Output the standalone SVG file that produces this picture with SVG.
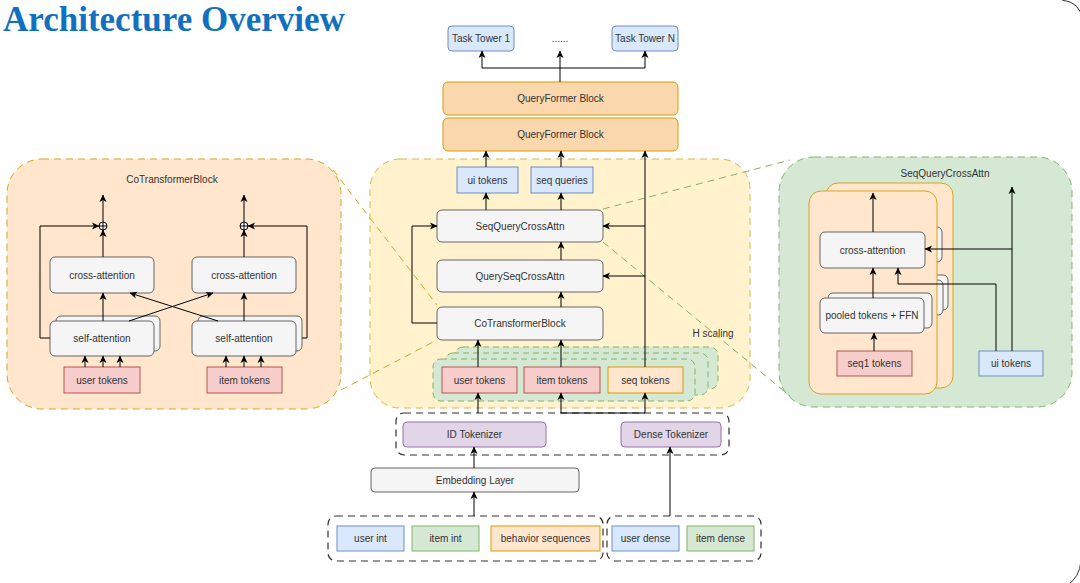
<svg xmlns="http://www.w3.org/2000/svg" width="1080" height="583" viewBox="0 0 1080 583">
<defs>
<marker id="arr" markerWidth="8" markerHeight="8" refX="7" refY="4" orient="auto" markerUnits="userSpaceOnUse">
<path d="M0,0.5 L7.5,4 L0,7.5 L2,4 z" fill="#000"/>
</marker>
<style>
text{font-family:"Liberation Sans",Arial,sans-serif;font-size:10px;fill:#333;text-anchor:middle;dominant-baseline:central}
.title{font-family:"Liberation Serif","Times New Roman",serif;font-size:35px;font-weight:bold;fill:#1270c0;text-anchor:start;dominant-baseline:auto}
.gray{fill:#f5f5f5;stroke:#666;stroke-width:1}
.red{fill:#f8cecc;stroke:#b85450;stroke-width:1}
.blue{fill:#dae8fc;stroke:#6c8ebf;stroke-width:1}
.green{fill:#d5e8d4;stroke:#82b366;stroke-width:1}
.orange{fill:#ffe6cc;stroke:#d79b00;stroke-width:1}
.qf{fill:#fad7ac;stroke:#d79b00;stroke-width:1}
.purple{fill:#e1d5e7;stroke:#9673a6;stroke-width:1}
.grp{fill:none;stroke:#333;stroke-width:1.2;stroke-dasharray:7 5}
.gstack{fill:#d5e8d4;stroke:#82b366;stroke-width:1;stroke-dasharray:6 4}
.ln{fill:none;stroke:#000;stroke-width:1}
.a{fill:none;stroke:#000;stroke-width:1;marker-end:url(#arr)}
.zoomO{fill:none;stroke:#d6a520;stroke-width:1;stroke-dasharray:7 5}
.zoomG{fill:none;stroke:#82b366;stroke-width:1;stroke-dasharray:7 5}
</style>
</defs>
<rect width="1080" height="583" fill="#fff"/>
<path d="M1062,0 Q1080,2 1083,20" fill="none" stroke="#333" stroke-width="1"/>
<path d="M1081,560 Q1080,578 1066,586" fill="none" stroke="#333" stroke-width="1"/>
<text class="title" x="3" y="31">Architecture Overview</text>

<g id="panel-cotransformer">
<rect x="7" y="159" width="334" height="250" rx="35" fill="#ffe6cc" stroke="#d6a520" stroke-width="1" stroke-dasharray="7 5"/>
<text x="172" y="179">CoTransformerBlock</text>
</g>
<g id="panel-main">
<rect x="370" y="159" width="380" height="249" rx="30" fill="#fff2cc" stroke="#d6b656" stroke-width="1" stroke-dasharray="7 5"/>
<text x="713" y="333">H scaling</text>
</g>
<g id="panel-seqquery">
<rect x="779" y="157" width="293" height="250" rx="35" fill="#d5e8d4" stroke="#82b366" stroke-width="1" stroke-dasharray="7 5"/>
<text x="945" y="173">SeqQueryCrossAttn</text>
</g>

<g id="zoom-lines">
<line class="zoomO" x1="333" y1="170" x2="437" y2="305"/>
<line class="zoomO" x1="341" y1="390" x2="437" y2="340"/>
<line class="zoomG" x1="603" y1="209" x2="790" y2="160"/>
<line class="zoomG" x1="603" y1="242" x2="790" y2="396"/>
</g>

<!-- left panel nodes -->
<g id="ct-cross-left"><rect class="gray" x="50" y="257" width="104" height="36" rx="5"/><text x="102" y="275">cross-attention</text></g>
<g id="ct-cross-right"><rect class="gray" x="192" y="257" width="104" height="36" rx="5"/><text x="244" y="275">cross-attention</text></g>
<g id="ct-self-left"><rect class="gray" x="56" y="316" width="104" height="35" rx="5"/><rect class="gray" x="50" y="321" width="104" height="35" rx="5"/><text x="102" y="338">self-attention</text></g>
<g id="ct-self-right"><rect class="gray" x="198" y="316" width="104" height="35" rx="5"/><rect class="gray" x="192" y="321" width="104" height="35" rx="5"/><text x="244" y="338">self-attention</text></g>
<g id="ct-user-tokens"><rect class="red" x="64" y="367" width="76" height="26"/><text x="102" y="380">user tokens</text></g>
<g id="ct-item-tokens"><rect class="red" x="207" y="367" width="75" height="26"/><text x="244.5" y="380">item tokens</text></g>
<g id="ct-plus-left"><circle cx="103" cy="226" r="4" fill="#fff" stroke="#000"/><path d="M99,226 H107 M103,222 V230" stroke="#000" stroke-width="1"/></g>
<g id="ct-plus-right"><circle cx="244" cy="226" r="4" fill="#fff" stroke="#000"/><path d="M240,226 H248 M244,222 V230" stroke="#000" stroke-width="1"/></g>

<!-- middle panel nodes -->
<g id="ui-tokens"><rect class="blue" x="457" y="167" width="61" height="26"/><text x="487.5" y="180">ui tokens</text></g>
<g id="seq-queries"><rect class="blue" x="531" y="167" width="62" height="26"/><text x="562" y="180">seq queries</text></g>
<g id="seqquerycrossattn"><rect class="gray" x="437" y="210" width="166" height="32" rx="5"/><text x="520" y="226">SeqQueryCrossAttn</text></g>
<g id="queryseqcrossattn"><rect class="gray" x="437" y="260" width="166" height="32" rx="5"/><text x="520" y="276">QuerySeqCrossAttn</text></g>
<g id="cotransformerblock"><rect class="gray" x="437" y="307" width="166" height="33" rx="5"/><text x="520" y="323.5">CoTransformerBlock</text></g>
<g id="token-stack">
<rect class="gstack" x="455" y="347" width="263" height="42" rx="8"/>
<rect class="gstack" x="445" y="353" width="263" height="42" rx="8"/>
<rect class="gstack" x="433" y="359" width="262" height="42" rx="8"/>
</g>
<g id="user-tokens"><rect class="red" x="442" y="367" width="75" height="26"/><text x="479.5" y="380">user tokens</text></g>
<g id="item-tokens"><rect class="red" x="524" y="367" width="76" height="26"/><text x="562" y="380">item tokens</text></g>
<g id="seq-tokens"><rect class="orange" x="608" y="367" width="75" height="26"/><text x="645.5" y="380">seq tokens</text></g>

<!-- top -->
<g id="task-tower-1"><rect class="blue" x="448" y="26" width="66" height="25" rx="4"/><text x="481" y="38.5">Task Tower 1</text></g>
<g id="task-tower-dots"><text x="560" y="38">......</text></g>
<g id="task-tower-n"><rect class="blue" x="612" y="26" width="66" height="25" rx="4"/><text x="645" y="38.5">Task Tower N</text></g>
<g id="queryformer-2"><rect class="qf" x="443" y="82" width="235" height="33" rx="5"/><text x="560.5" y="98.5">QueryFormer Block</text></g>
<g id="queryformer-1"><rect class="qf" x="443" y="118" width="235" height="33" rx="5"/><text x="560.5" y="134.5">QueryFormer Block</text></g>

<!-- bottom -->
<g id="tokenizer-group"><rect class="grp" x="396" y="413" width="333" height="42" rx="8"/></g>
<g id="id-tokenizer"><rect class="purple" x="403" y="422" width="143" height="25" rx="4"/><text x="474.5" y="434.5">ID Tokenizer</text></g>
<g id="dense-tokenizer"><rect class="purple" x="621" y="422" width="100" height="25" rx="4"/><text x="671" y="434.5">Dense Tokenizer</text></g>
<g id="embedding-layer"><rect class="gray" x="371" y="468" width="208" height="24" rx="4"/><text x="475" y="480">Embedding Layer</text></g>
<g id="input-group-id"><rect class="grp" x="328" y="516" width="275" height="45" rx="8"/></g>
<g id="input-group-dense"><rect class="grp" x="607" y="516" width="154" height="45" rx="8"/></g>
<g id="user-int"><rect class="blue" x="337" y="526" width="67" height="25"/><text x="370.5" y="538.5">user int</text></g>
<g id="item-int"><rect class="green" x="412" y="526" width="67" height="25"/><text x="445.5" y="538.5">item int</text></g>
<g id="behavior-sequences"><rect class="orange" x="491" y="526" width="109" height="25"/><text x="545.5" y="538.5">behavior sequences</text></g>
<g id="user-dense"><rect class="blue" x="612" y="526" width="67" height="25"/><text x="645.5" y="538.5">user dense</text></g>
<g id="item-dense"><rect class="green" x="687" y="526" width="67" height="25"/><text x="720.5" y="538.5">item dense</text></g>

<!-- right panel nodes -->
<g id="sq-layer-back">
<rect x="826" y="183" width="127" height="205" rx="12" fill="#ffe6cc" stroke="#d6a520" stroke-width="1"/>
<rect class="gray" x="837" y="227" width="105" height="35" rx="5"/>
<rect class="gray" x="843" y="275" width="105" height="35" rx="5"/>
<rect class="gray" x="838" y="280" width="105" height="35" rx="5"/>
</g>
<g id="sq-layer-front">
<rect x="809" y="191" width="128" height="203" rx="12" fill="#ffe6cc" stroke="#d6a520" stroke-width="1"/>
</g>
<g id="sq-cross-attention"><rect class="gray" x="820" y="232" width="105" height="36" rx="5"/><text x="872.5" y="250">cross-attention</text></g>
<g id="sq-pooled"><rect class="gray" x="828" y="293" width="104" height="35" rx="5"/><rect class="gray" x="820" y="298" width="104" height="35" rx="5"/><text x="872" y="315.5">pooled tokens + FFN</text></g>
<g id="seq1-tokens"><rect class="red" x="837" y="351" width="75" height="25"/><text x="874.5" y="363.5">seq1 tokens</text></g>
<g id="sq-ui-tokens"><rect class="blue" x="979" y="351" width="64" height="25"/><text x="1011" y="363.5">ui tokens</text></g>

<g id="connectors">
<!-- left panel -->
<line class="a" x1="85" y1="367" x2="85" y2="356"/>
<line class="a" x1="103" y1="367" x2="103" y2="356"/>
<line class="a" x1="120" y1="367" x2="120" y2="356"/>
<line class="a" x1="226" y1="367" x2="226" y2="356"/>
<line class="a" x1="244" y1="367" x2="244" y2="356"/>
<line class="a" x1="261" y1="367" x2="261" y2="356"/>
<line class="a" x1="103" y1="321" x2="103" y2="293"/>
<line class="a" x1="244" y1="321" x2="244" y2="293"/>
<line class="a" x1="129" y1="321" x2="213" y2="293"/>
<line class="a" x1="218" y1="321" x2="130" y2="293"/>
<line class="a" x1="103" y1="257" x2="103" y2="230"/>
<line class="a" x1="244" y1="257" x2="244" y2="230"/>
<line class="a" x1="103" y1="222" x2="103" y2="195"/>
<line class="a" x1="244" y1="222" x2="244" y2="195"/>
<path class="a" d="M50,338 H40 V226 H99"/>
<path class="a" d="M302,338 H307 V226 H248"/>
<!-- middle -->
<line class="a" x1="486" y1="210" x2="486" y2="193"/>
<line class="a" x1="561" y1="210" x2="561" y2="193"/>
<line class="a" x1="486" y1="167" x2="486" y2="151"/>
<line class="a" x1="561" y1="167" x2="561" y2="151"/>
<line class="a" x1="645" y1="367" x2="645" y2="151"/>
<path class="a" d="M645,226 H603"/>
<path class="a" d="M645,276 H603"/>
<line class="a" x1="561" y1="260" x2="561" y2="242"/>
<line class="a" x1="561" y1="307" x2="561" y2="292"/>
<path class="a" d="M437,323 H412 V226 H437"/>
<line class="a" x1="478" y1="367" x2="478" y2="340"/>
<line class="a" x1="561" y1="367" x2="561" y2="340"/>
<line class="a" x1="478" y1="413" x2="478" y2="393"/>
<line class="a" x1="561" y1="413" x2="561" y2="393"/>
<path class="a" d="M561,413 H645 V393"/>
<!-- top -->
<line class="a" x1="560" y1="82" x2="560" y2="51"/>
<path class="ln" d="M482,68 H645"/>
<line class="a" x1="482" y1="68" x2="482" y2="51"/>
<line class="a" x1="645" y1="68" x2="645" y2="51"/>
<!-- bottom -->
<line class="a" x1="474" y1="468" x2="474" y2="447"/>
<line class="a" x1="474" y1="516" x2="474" y2="492"/>
<line class="a" x1="670" y1="516" x2="670" y2="447"/>
<!-- right panel -->
<line class="a" x1="874" y1="351" x2="874" y2="333"/>
<line class="a" x1="873" y1="298" x2="873" y2="268"/>
<line class="a" x1="873" y1="232" x2="873" y2="193"/>
<path class="a" d="M996,351 V284 H898 V268"/>
<line class="a" x1="1012" y1="351" x2="1012" y2="187"/>
<path class="a" d="M1012,249 H925"/>
</g>
</svg>
